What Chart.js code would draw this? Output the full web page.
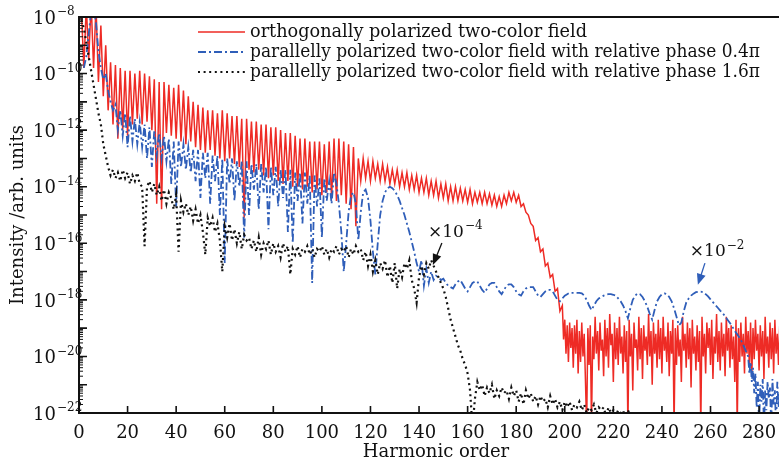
<!DOCTYPE html>
<html>
<head>
<meta charset="utf-8">
<style>
  html, body { margin: 0; padding: 0; background: #fff; }
  #wrap { width: 779px; height: 464px; position: relative; }
</style>
<script src="https://cdn.jsdelivr.net/npm/chart.js@4.4.0/dist/chart.umd.min.js"></script>
</head>
<body>
<div id="wrap"><canvas id="hhg" width="779" height="464"></canvas></div>
<script>
// harmonic order axis ticks and intensity decades (log10) that get labels
var xTicks = [0, 20, 40, 60, 80, 100, 120, 140, 160, 180, 200, 220, 240, 260, 280];
var yLabelExps = [-8, -10, -12, -14, -16, -18, -20, -22];

var seriesNames = [
  'orthogonally polarized two-color field',
  'parallelly polarized two-color field with relative phase 0.4\u03c0',
  'parallelly polarized two-color field with relative phase 1.6\u03c0'
];

// values are log10(intensity)
// orthogonal field: orders 1..199, step 1
var redStart = 1, redStep = 1;
var redLog = [
  -7.8, -9.8, -7.6, -9.5, -7.5, -9.8, -7.6, -10.3, -8.3, -10.8,
  -9.0, -11.3, -9.6, -11.8, -9.7, -12.3, -9.8, -12.0, -9.9, -12.2,
  -9.9, -11.8, -10.0, -11.6, -9.9, -11.8, -10.0, -11.7, -10.1, -12.0,
  -10.2, -14.6, -10.3, -14.8, -10.3, -12.1, -10.4, -12.2, -10.5, -12.3,
  -10.4, -12.4, -10.6, -12.5, -10.8, -12.4, -11.0, -12.6, -11.1, -12.7,
  -11.2, -12.8, -11.3, -12.7, -11.3, -12.9, -11.4, -13.0, -11.3, -13.1,
  -11.4, -13.0, -11.5, -13.2, -11.5, -13.3, -11.6, -15.1, -11.6, -13.4,
  -11.7, -13.5, -11.7, -13.4, -11.8, -13.6, -11.8, -13.7, -11.9, -13.6,
  -11.9, -13.8, -12.0, -13.9, -12.1, -13.8, -12.1, -14.0, -12.2, -14.0,
  -12.3, -14.1, -12.3, -14.0, -12.4, -14.2, -12.4, -14.1, -12.4, -14.3,
  -12.5, -14.2, -12.4, -14.4, -12.3, -14.5, -12.3, -14.3, -12.4, -14.6,
  -12.5, -14.8, -12.6, -15.4, -13.0, -13.8, -13.0, -13.7, -13.1, -13.8,
  -13.1, -13.7, -13.2, -13.8, -13.2, -13.8, -13.3, -13.9, -13.4, -13.9,
  -13.4, -14.0, -13.5, -14.0, -13.5, -14.1, -13.6, -14.1, -13.6, -14.2,
  -13.7, -14.2, -13.7, -14.3, -13.8, -14.3, -13.8, -14.4, -13.9, -14.4,
  -13.9, -14.5, -14.0, -14.5, -14.0, -14.5, -14.05, -14.5, -14.1, -14.55,
  -14.1, -14.6, -14.2, -14.55, -14.2, -14.6, -14.2, -14.6, -14.25, -14.65,
  -14.3, -14.7, -14.35, -14.7, -14.3, -14.6, -14.2, -14.5, -14.2, -14.55,
  -14.3, -14.7, -14.6, -14.9, -15.0, -15.3, -15.4, -15.9, -15.8, -16.3,
  -16.2, -16.8, -16.7, -17.2, -17.1, -17.7, -17.6, -18.4, -18.2
];
// orthogonal field above the cutoff: orders 199.5..288.5, step 0.5
var redTailStart = 199.5, redTailStep = 0.5;
var redTailLog = [
  -19.4, -18.7, -19.9, -18.9, -20.2, -18.8, -19.7, -19.0, -20.4, -18.9,
  -19.9, -18.7, -20.6, -19.1, -20.2, -18.8, -20.0, -19.2, -20.8, -22.5,
  -19.0, -20.3, -18.9, -22.5, -19.3, -20.1, -18.6, -19.9, -19.1, -20.5,
  -18.8, -19.8, -19.4, -20.7, -18.7, -20.0, -19.0, -20.4, -18.5, -19.6,
  -19.2, -20.9, -18.8, -20.1, -19.0, -20.3, -18.6, -19.9, -19.3, -20.6,
  -18.9, -20.2, -19.1, -22.5, -18.7, -20.0, -19.2, -21.2, -18.8, -19.7,
  -19.4, -20.5, -18.6, -20.1, -19.0, -20.8, -18.9, -19.8, -19.3, -20.3,
  -18.5, -20.0, -19.1, -21.0, -18.8, -19.9, -19.2, -20.4, -18.7, -20.1,
  -19.0, -20.6, -18.6, -19.8, -19.3, -20.2, -18.8, -20.7, -19.1, -19.9,
  -18.7, -22.5, -19.0, -20.3, -18.9, -20.0, -19.4, -20.9, -18.6, -19.8,
  -19.2, -20.4, -18.8, -20.1, -19.0, -21.1, -18.7, -19.9, -19.3, -20.5,
  -18.9, -20.2, -19.1, -22.5, -18.6, -20.0, -19.2, -20.6, -18.8, -19.7,
  -19.0, -20.3, -18.7, -20.8, -19.3, -19.9, -18.5, -20.2, -19.1, -20.5,
  -18.8, -20.0, -19.2, -20.7, -18.6, -19.8, -19.0, -20.4, -18.9, -20.1,
  -19.3, -20.9, -18.7, -22.5, -19.0, -20.2, -18.8, -20.0, -19.2, -20.6,
  -18.6, -19.9, -19.1, -20.3, -18.8, -20.7, -19.0, -20.1, -18.7, -19.8,
  -19.2, -20.5, -18.9, -20.0, -19.1, -20.8, -18.6, -19.9, -19.3, -20.4,
  -18.8, -20.1, -19.0, -20.6, -18.7, -19.9, -19.2, -20.3, -18.9
];

// parallel field, phase 0.4 pi (x 1e-2): orders 2..275, step 1
var blueStart = 2, blueStep = 1;
var blueLog = [
  -9.8, -9.4, -8.6, -7.8, -7.6, -8.2, -9.2, -9.8, -10.2, -10.0,
  -10.6, -11.0, -11.3, -11.1, -12.0, -11.3, -12.2, -11.4, -12.6, -11.5,
  -12.4, -11.6, -12.5, -11.7, -12.6, -11.8, -13.0, -11.9, -13.3, -12.0,
  -12.9, -12.1, -13.0, -12.2, -13.1, -12.3, -13.9, -12.4, -14.7, -12.4,
  -13.3, -12.5, -13.4, -12.6, -13.5, -12.7, -13.8, -12.7, -14.4, -12.8,
  -13.7, -12.8, -14.6, -12.9, -13.8, -12.9, -15.0, -13.0, -16.7, -13.0,
  -13.9, -13.0, -14.5, -13.1, -14.0, -13.1, -15.8, -13.1, -15.0, -13.2,
  -14.1, -13.2, -14.8, -13.2, -14.2, -13.3, -15.5, -13.3, -14.3, -13.3,
  -14.7, -13.4, -14.4, -13.4, -15.6, -13.4, -16.0, -13.5, -14.5, -13.5,
  -15.3, -13.5, -14.6, -13.6, -17.4, -13.6, -14.7, -13.7, -15.8, -13.7,
  -14.5, -13.8, -14.6, -13.5, -13.9, -14.6, -15.6, -17.0, -16.0, -14.9,
  -14.3, -14.2, -14.6, -15.9, -14.9, -14.2, -14.1, -14.4, -15.2, -16.3,
  -17.1, -16.0, -15.0, -14.5, -14.2, -14.05, -14.0, -14.05, -14.15, -14.3,
  -14.5, -14.75, -15.0, -15.3, -15.6, -15.95, -16.3, -16.7, -17.0, -16.6,
  -17.5, -16.9, -17.4, -17.0, -17.3, -17.15, -17.2, -17.3, -17.25, -17.4,
  -17.5, -17.55, -17.6, -17.45, -17.35, -17.3, -17.45, -17.6, -17.7, -17.55,
  -17.4, -17.35, -17.35, -17.5, -17.65, -17.75, -17.6, -17.45, -17.4, -17.4,
  -17.55, -17.7, -17.8, -17.65, -17.5, -17.45, -17.45, -17.55, -17.7, -17.8,
  -17.85, -17.7, -17.6, -17.55, -17.55, -17.55, -17.7, -17.85, -17.9, -17.8,
  -17.7, -17.65, -17.65, -17.7, -17.85, -18.0, -18.05, -17.95, -17.85, -17.8,
  -17.75, -17.75, -17.75, -17.75, -17.75, -17.77, -17.85, -18.0, -18.2, -18.36,
  -18.2, -18.05, -17.95, -17.9, -17.85, -17.82, -17.8, -17.8, -17.82, -17.85,
  -17.95, -18.05, -18.2, -18.4, -18.65, -18.3, -18.0, -17.85, -17.77, -17.8,
  -17.9, -18.05, -18.25, -18.5, -18.7, -18.35, -18.05, -17.9, -17.8, -17.77,
  -17.8, -17.9, -18.05, -18.3, -18.6, -18.9, -18.8, -18.4, -18.1, -17.95,
  -17.85, -17.78, -17.73, -17.71, -17.71, -17.73, -17.8, -17.88, -17.98, -18.08,
  -18.18, -18.28, -18.38, -18.47, -18.58, -18.7, -18.82, -18.95, -19.1, -19.22,
  -19.35, -19.5, -19.7, -19.9
];
// phase 0.4 pi tail: orders 275.5..288.5, step 0.5
var blueTailStart = 275.5, blueTailStep = 0.5;
var blueTailLog = [
  -20.0, -20.6, -20.2, -20.9, -20.4, -21.3, -20.6, -21.8, -20.9, -22.5,
  -21.0, -21.6, -20.8, -22.5, -21.2, -21.9, -20.9, -21.5, -21.1, -22.5,
  -20.8, -21.7, -21.2, -22.5, -20.9, -21.8, -21.3
];

// parallel field, phase 1.6 pi (x 1e-4): orders 1..236, step 1
var blackStart = 1, blackStep = 1;
var blackLog = [
  -8.1, -8.4, -8.9, -9.4, -9.9, -10.4, -10.9, -11.4, -11.8, -12.5,
  -12.9, -13.3, -13.6, -13.4, -13.7, -13.5, -13.8, -13.4, -13.7, -13.5,
  -13.9, -13.6, -13.8, -13.5, -13.9, -14.0, -16.1, -14.0, -13.8, -14.2,
  -13.9, -14.3, -14.0, -14.5, -14.1, -14.6, -14.2, -14.4, -14.8, -14.3,
  -16.3, -14.5, -14.9, -14.6, -15.0, -14.7, -15.2, -14.8, -15.3, -15.0,
  -15.6, -16.4, -15.1, -15.4, -15.1, -15.6, -15.3, -15.9, -17.0, -15.4,
  -15.8, -15.3, -15.9, -15.5, -16.0, -15.6, -16.2, -15.7, -15.9, -15.8,
  -16.2, -15.9, -16.3, -15.8, -16.4, -16.0, -16.2, -15.9, -16.4, -16.0,
  -16.3, -16.1, -16.5, -16.0, -16.3, -16.1, -17.1, -16.2, -16.4, -16.1,
  -16.5, -16.2, -16.3, -16.1, -16.4, -16.2, -16.5, -16.2, -16.3, -16.1,
  -16.4, -16.2, -16.5, -16.2, -16.3, -16.1, -16.4, -16.2, -16.3, -16.1,
  -16.5, -16.2, -16.4, -16.1, -16.3, -16.2, -16.6, -16.3, -16.8, -16.4,
  -17.0, -16.6, -17.1, -16.7, -16.9, -16.6, -17.2, -16.8, -17.4, -16.7,
  -17.6, -16.9, -17.2, -16.7, -16.9, -16.6, -17.3, -17.6, -18.1, -17.2,
  -16.8, -17.1, -16.7, -16.9, -16.6, -16.8, -17.0, -17.2, -17.4, -17.6,
  -17.9, -18.3, -18.7, -19.0, -19.3, -19.6, -19.8, -20.1, -20.3, -20.6,
  -21.2, -22.5, -21.5, -20.9, -21.2, -21.0, -21.4, -21.1, -21.3, -21.0,
  -21.5, -21.2, -21.4, -21.1, -21.3, -21.2, -21.5, -21.1, -21.4, -21.2,
  -21.6, -21.3, -21.7, -21.2, -21.5, -21.3, -21.6, -21.4, -21.7, -21.4,
  -21.6, -21.5, -21.8, -21.4, -21.7, -21.5, -21.8, -21.6, -21.9, -21.6,
  -21.8, -21.6, -21.9, -21.7, -21.8, -21.6, -21.9, -21.7, -22.0, -21.8,
  -21.9, -21.7, -22.0, -21.8, -21.9, -21.8, -22.1, -21.8, -22.0, -21.9,
  -22.1, -21.9, -22.0, -21.9, -22.2, -21.9, -22.1, -22.0, -22.2, -22.0,
  -22.3, -22.1, -22.3, -22.2, -22.4, -22.5
];

(function () {
  var RED = '#ee2b25';
  var BLUE = '#2f5eb9';
  var INK = '#111';
  var FONT = '"DejaVu Serif", serif';

  function toPoints(start, step, logs) {
    return logs.map(function (v, i) {
      return { x: start + i * step, y: Math.pow(10, v) };
    });
  }

  var redPts = toPoints(redStart, redStep, redLog).concat(toPoints(redTailStart, redTailStep, redTailLog));
  var bluePts = toPoints(blueStart, blueStep, blueLog).concat(toPoints(blueTailStart, blueTailStep, blueTailLog));
  var blackPts = toPoints(blackStart, blackStep, blackLog);

  var styles = [
    { color: RED, width: 1.5, dash: [] },
    { color: BLUE, width: 1.8, dash: [8, 3, 2, 3] },
    { color: INK, width: 2.2, dash: [2, 3.6] }
  ];

  // legend text widths as measured on the reference
  var legendWidths = [337, 510, 510];

  // power-of-ten text, "10" right aligned at x, exponent after it
  function drawPow(ctx, base, sup, x, y, size, supSize, align) {
    ctx.font = size + 'px ' + FONT;
    var bw = ctx.measureText(base).width;
    var left = align === 'right' ? x - bw : x;
    ctx.textAlign = 'left';
    ctx.textBaseline = 'middle';
    ctx.fillText(base, left, y);
    ctx.font = supSize + 'px ' + FONT;
    ctx.fillText(sup, left + bw + 1, y - size * 0.38);
  }

  function arrow(ctx, x0, y0, x1, y1, color) {
    var ang = Math.atan2(y1 - y0, x1 - x0);
    var len = 11, half = 4.5;
    ctx.strokeStyle = color;
    ctx.fillStyle = color;
    ctx.lineWidth = 1.3;
    ctx.beginPath();
    ctx.moveTo(x0, y0);
    ctx.lineTo(x1 - Math.cos(ang) * len * 0.8, y1 - Math.sin(ang) * len * 0.8);
    ctx.stroke();
    ctx.beginPath();
    ctx.moveTo(x1, y1);
    ctx.lineTo(x1 - Math.cos(ang) * len - Math.sin(ang) * half, y1 - Math.sin(ang) * len + Math.cos(ang) * half);
    ctx.lineTo(x1 - Math.cos(ang) * len + Math.sin(ang) * half, y1 - Math.sin(ang) * len - Math.cos(ang) * half);
    ctx.closePath();
    ctx.fill();
  }

  var frame = {
    id: 'frame',
    afterDatasetsDraw: function (chart) {
      var ctx = chart.ctx, a = chart.chartArea;
      var xs = chart.scales.x, ys = chart.scales.y;
      ctx.save();

      // axes box (top, left, bottom)
      ctx.strokeStyle = INK;
      ctx.lineWidth = 2;
      ctx.beginPath();
      ctx.moveTo(a.right, a.top);
      ctx.lineTo(a.left, a.top);
      ctx.lineTo(a.left, a.bottom);
      ctx.lineTo(a.right, a.bottom);
      ctx.stroke();

      // inward ticks
      ctx.lineWidth = 1.6;
      ctx.beginPath();
      xTicks.forEach(function (t) {
        var px = xs.getPixelForValue(t);
        ctx.moveTo(px, a.bottom);
        ctx.lineTo(px, a.bottom - 7);
      });
      for (var d = -22; d <= -8; d++) {
        var py = ys.getPixelForValue(Math.pow(10, d));
        ctx.moveTo(a.left, py);
        ctx.lineTo(a.left + 8, py);
      }
      ctx.stroke();
      ctx.lineWidth = 1;
      ctx.beginPath();
      for (var e = -22; e < -8; e++) {
        for (var m = 2; m <= 9; m++) {
          var my = ys.getPixelForValue(m * Math.pow(10, e));
          ctx.moveTo(a.left, my);
          ctx.lineTo(a.left + 4, my);
        }
      }
      ctx.stroke();

      // tick labels
      ctx.fillStyle = INK;
      ctx.font = '18px ' + FONT;
      ctx.textAlign = 'center';
      ctx.textBaseline = 'middle';
      xTicks.forEach(function (t) {
        ctx.fillText(String(t), xs.getPixelForValue(t), a.bottom + 20);
      });
      yLabelExps.forEach(function (p) {
        var py = ys.getPixelForValue(Math.pow(10, p));
        drawPow(ctx, '10', '\u2212' + Math.abs(p), 56, py + 2, 18, 12, 'right');
      });

      // axis titles
      ctx.font = '18px ' + FONT;
      ctx.textAlign = 'center';
      ctx.fillText('Harmonic order', 436, a.bottom + 39);
      ctx.save();
      ctx.translate(18, (a.top + a.bottom) / 2);
      ctx.rotate(-Math.PI / 2);
      ctx.fillText('Intensity /arb. units', 0, 0);
      ctx.restore();

      // legend
      var rows = [a.top + 15, a.top + 35, a.top + 55];
      rows.forEach(function (ry, i) {
        var s = styles[i];
        ctx.strokeStyle = s.color;
        ctx.lineWidth = s.width;
        ctx.setLineDash(s.dash);
        ctx.beginPath();
        ctx.moveTo(198, ry);
        ctx.lineTo(245, ry);
        ctx.stroke();
        ctx.setLineDash([]);
        ctx.fillStyle = INK;
        ctx.font = '17.7px ' + FONT;
        ctx.textAlign = 'left';
        ctx.textBaseline = 'middle';
        ctx.fillText(seriesNames[i], 250, ry, legendWidths[i]);
      });

      // scale factor notes with arrows
      ctx.fillStyle = INK;
      drawPow(ctx, '\u00d710', '\u22124', xs.getPixelForValue(143.7), ys.getPixelForValue(Math.pow(10, -15.63)), 17, 12, 'left');
      arrow(ctx, xs.getPixelForValue(149.4), ys.getPixelForValue(Math.pow(10, -15.99)),
        xs.getPixelForValue(145.7), ys.getPixelForValue(Math.pow(10, -16.77)), INK);
      ctx.fillStyle = INK;
      drawPow(ctx, '\u00d710', '\u22122', xs.getPixelForValue(251.5), ys.getPixelForValue(Math.pow(10, -16.31)), 17, 12, 'left');
      arrow(ctx, xs.getPixelForValue(257.7), ys.getPixelForValue(Math.pow(10, -16.70)),
        xs.getPixelForValue(254.8), ys.getPixelForValue(Math.pow(10, -17.47)), BLUE);

      ctx.restore();
    }
  };

  function dataset(label, pts, s, order) {
    return {
      label: label,
      data: pts,
      borderColor: s.color,
      borderWidth: s.width,
      borderDash: s.dash,
      pointRadius: 0,
      tension: 0,
      fill: false,
      order: order
    };
  }

  new Chart(document.getElementById('hhg'), {
    type: 'line',
    data: {
      datasets: [
        dataset(seriesNames[0], redPts, styles[0], 3),
        dataset(seriesNames[1], bluePts, styles[1], 2),
        dataset(seriesNames[2], blackPts, styles[2], 1)
      ]
    },
    options: {
      responsive: false,
      animation: false,
      devicePixelRatio: 1,
      layout: { padding: { left: 79, top: 17, right: 0, bottom: 51 } },
      plugins: { legend: { display: false }, tooltip: { enabled: false } },
      scales: {
        x: { type: 'linear', min: 0, max: 288.2, display: false },
        y: { type: 'logarithmic', min: 1e-22, max: 1e-8, display: false }
      }
    },
    plugins: [frame]
  });
})();
</script>
</body>
</html>
